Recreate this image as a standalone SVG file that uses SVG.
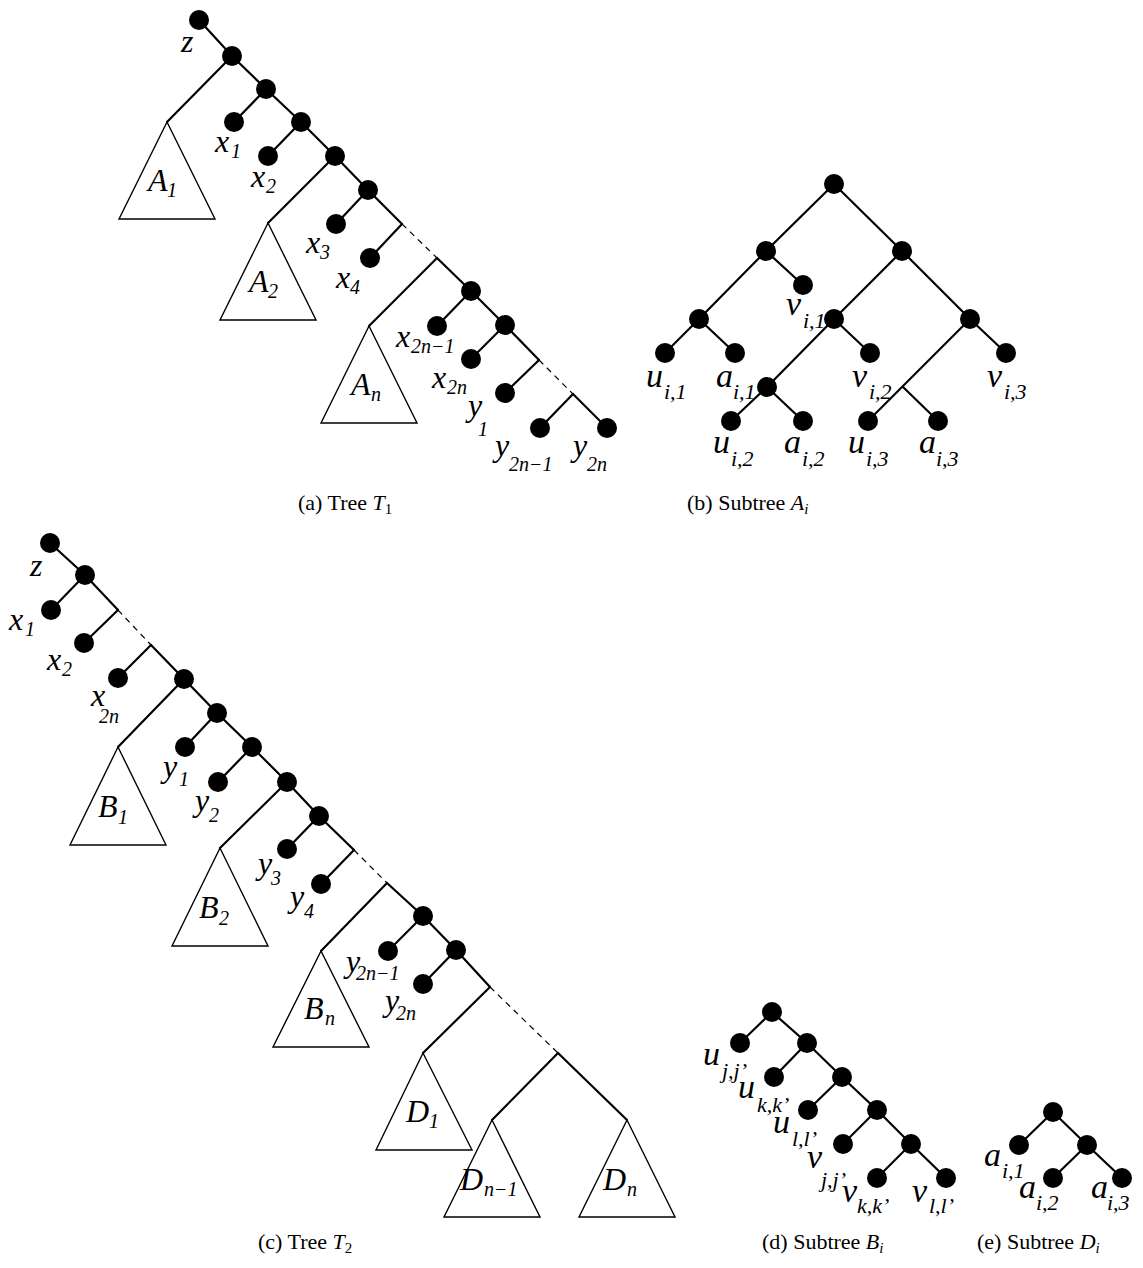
<svg xmlns="http://www.w3.org/2000/svg" width="1143" height="1268" viewBox="0 0 1143 1268">
<style>
.e{stroke:#000;stroke-width:2.2;fill:none;stroke-linecap:round}
.d{stroke:#000;stroke-width:1.2;fill:none;stroke-dasharray:6 5}
.tri{stroke:#000;stroke-width:1.4;fill:#fff}
.n{fill:#000}
.L{font-family:"Liberation Serif",serif;font-style:italic;font-size:32px;fill:#000}
.s{font-family:"Liberation Serif",serif;font-style:italic;font-size:20px;fill:#000}
.L2{font-family:"Liberation Serif",serif;font-style:italic;font-size:34px;fill:#000}
.s2{font-family:"Liberation Serif",serif;font-style:italic;font-size:22px;fill:#000}
.cap{font-family:"Liberation Serif",serif;font-size:22px;fill:#000}
</style>
<rect width="1143" height="1268" fill="#fff"/>
<g id="connectors">
<!-- T1 -->
<polyline class="e" points="199,20 232,56 266,89 301,122 335,156 368,190 402,224"/>
<line class="e" x1="232" y1="56" x2="167" y2="122"/>
<line class="e" x1="266" y1="89" x2="234" y2="122"/>
<line class="e" x1="301" y1="122" x2="268" y2="156"/>
<line class="e" x1="335" y1="156" x2="268" y2="223"/>
<line class="e" x1="368" y1="190" x2="336" y2="224"/>
<line class="e" x1="402" y1="224" x2="370" y2="258"/>
<line class="d" x1="402" y1="224" x2="437" y2="258"/>
<line class="e" x1="437" y1="258" x2="369" y2="326"/>
<polyline class="e" points="437,258 471,291 505,325 539,360"/>
<line class="e" x1="471" y1="291" x2="437" y2="326"/>
<line class="e" x1="505" y1="325" x2="471" y2="359"/>
<line class="e" x1="539" y1="360" x2="505" y2="393"/>
<line class="d" x1="539" y1="360" x2="573" y2="394"/>
<line class="e" x1="573" y1="394" x2="540" y2="428"/>
<line class="e" x1="573" y1="394" x2="607" y2="428"/>
<!-- Ai -->
<polyline class="e" points="699,319 766,251 834,184 902,251 970,319 1006,353"/>
<line class="e" x1="766" y1="251" x2="803" y2="285"/>
<line class="e" x1="699" y1="319" x2="665" y2="353"/>
<line class="e" x1="699" y1="319" x2="735" y2="353"/>
<polyline class="e" points="902,251 834,319 767,387 731,421"/>
<line class="e" x1="834" y1="319" x2="870" y2="353"/>
<line class="e" x1="767" y1="387" x2="803" y2="421"/>
<line class="e" x1="970" y1="319" x2="868" y2="421"/>
<line class="e" x1="903" y1="387" x2="938" y2="421"/>
<!-- T2 -->
<polyline class="e" points="50,543 85,575 118,610"/>
<line class="e" x1="85" y1="575" x2="51" y2="610"/>
<line class="e" x1="118" y1="610" x2="84" y2="643"/>
<line class="d" x1="118" y1="610" x2="151" y2="645"/>
<polyline class="e" points="151,645 184,679 217,713 252,747 287,782 319,816 354,850"/>
<line class="e" x1="151" y1="645" x2="118" y2="678"/>
<line class="e" x1="184" y1="679" x2="118" y2="747"/>
<line class="e" x1="217" y1="713" x2="185" y2="747"/>
<line class="e" x1="252" y1="747" x2="218" y2="782"/>
<line class="e" x1="287" y1="782" x2="220" y2="848"/>
<line class="e" x1="319" y1="816" x2="287" y2="849"/>
<line class="e" x1="354" y1="850" x2="321" y2="884"/>
<line class="d" x1="354" y1="850" x2="387" y2="883"/>
<line class="e" x1="387" y1="883" x2="321" y2="951"/>
<polyline class="e" points="387,883 423,916 456,950 490,987"/>
<line class="e" x1="423" y1="916" x2="388" y2="951"/>
<line class="e" x1="456" y1="950" x2="423" y2="984"/>
<line class="e" x1="490" y1="987" x2="423" y2="1053"/>
<line class="d" x1="490" y1="987" x2="558" y2="1053"/>
<line class="e" x1="558" y1="1053" x2="492" y2="1120"/>
<line class="e" x1="558" y1="1053" x2="627" y2="1120"/>
<!-- Bi -->
<polyline class="e" points="740,1043 772,1012 807,1043 842,1077 877,1110 911,1144 946,1178"/>
<line class="e" x1="807" y1="1043" x2="774" y2="1077"/>
<line class="e" x1="842" y1="1077" x2="808" y2="1110"/>
<line class="e" x1="877" y1="1110" x2="843" y2="1144"/>
<line class="e" x1="911" y1="1144" x2="877" y2="1178"/>
<!-- Di -->
<polyline class="e" points="1019,1145 1053,1112 1087,1145 1122,1178"/>
<line class="e" x1="1087" y1="1145" x2="1053" y2="1178"/>
</g>

<!-- Tree T1 -->
<g id="t1-z"><circle class="n" cx="199" cy="20" r="10"/><text class="L" x="181" y="52">z</text></g>
<g id="t1-n1"><circle class="n" cx="232" cy="56" r="10"/></g>
<g id="t1-n2"><circle class="n" cx="266" cy="89" r="10"/></g>
<g id="t1-x1"><circle class="n" cx="234" cy="122" r="10"/><text class="L" x="215" y="152">x</text><text class="s" x="231" y="158">1</text></g>
<g id="t1-n3"><circle class="n" cx="301" cy="122" r="10"/></g>
<g id="t1-x2"><circle class="n" cx="268" cy="156" r="10"/><text class="L" x="251" y="187">x</text><text class="s" x="266" y="193">2</text></g>
<g id="t1-n4"><circle class="n" cx="335" cy="156" r="10"/></g>
<g id="t1-n5"><circle class="n" cx="368" cy="190" r="10"/></g>
<g id="t1-x3"><circle class="n" cx="336" cy="224" r="10"/><text class="L" x="306" y="253">x</text><text class="s" x="320" y="259">3</text></g>
<g id="t1-x4"><circle class="n" cx="370" cy="258" r="10"/><text class="L" x="336" y="288">x</text><text class="s" x="350" y="294">4</text></g>
<g id="t1-n6"><circle class="n" cx="471" cy="291" r="10"/></g>
<g id="t1-x2n1"><circle class="n" cx="437" cy="326" r="10"/><text class="L" x="396" y="347">x</text><text class="s" x="411" y="353">2n−1</text></g>
<g id="t1-n7"><circle class="n" cx="505" cy="325" r="10"/></g>
<g id="t1-x2n"><circle class="n" cx="471" cy="359" r="10"/><text class="L" x="432" y="388">x</text><text class="s" x="447" y="394">2n</text></g>
<g id="t1-y1"><circle class="n" cx="505" cy="393" r="10"/><text class="L" x="468" y="416">y</text><text class="s" x="478" y="436">1</text></g>
<g id="t1-y2n1"><circle class="n" cx="540" cy="428" r="10"/><text class="L" x="495" y="456">y</text><text class="s" x="509" y="471">2n−1</text></g>
<g id="t1-y2n"><circle class="n" cx="607" cy="428" r="10"/><text class="L" x="573" y="456">y</text><text class="s" x="587" y="471">2n</text></g>
<g id="t1-A1"><polygon class="tri" points="167,122 119,219 215,219"/><text class="L" x="148" y="191">A</text><text class="s" x="167" y="197">1</text></g>
<g id="t1-A2"><polygon class="tri" points="268,223 220,320 316,320"/><text class="L" x="249" y="292">A</text><text class="s" x="268" y="298">2</text></g>
<g id="t1-An"><polygon class="tri" points="369,326 321,423 417,423"/><text class="L" x="351" y="395">A</text><text class="s" x="371" y="401">n</text></g>

<!-- Subtree Ai -->
<g id="ai-root"><circle class="n" cx="834" cy="184" r="10"/></g>
<g id="ai-l"><circle class="n" cx="766" cy="251" r="10"/></g>
<g id="ai-r"><circle class="n" cx="902" cy="251" r="10"/></g>
<g id="ai-v1"><circle class="n" cx="803" cy="285" r="10"/><text class="L2" x="786" y="315">v</text><text class="s2" x="803" y="328">i,1</text></g>
<g id="ai-ll"><circle class="n" cx="699" cy="319" r="10"/></g>
<g id="ai-u1"><circle class="n" cx="665" cy="353" r="10"/><text class="L2" x="646" y="387">u</text><text class="s2" x="664" y="399">i,1</text></g>
<g id="ai-a1"><circle class="n" cx="735" cy="353" r="10"/><text class="L2" x="716" y="387">a</text><text class="s2" x="733" y="399">i,1</text></g>
<g id="ai-rl"><circle class="n" cx="834" cy="319" r="10"/></g>
<g id="ai-v2"><circle class="n" cx="870" cy="353" r="10"/><text class="L2" x="852" y="387">v</text><text class="s2" x="869" y="399">i,2</text></g>
<g id="ai-rr"><circle class="n" cx="970" cy="319" r="10"/></g>
<g id="ai-v3"><circle class="n" cx="1006" cy="353" r="10"/><text class="L2" x="987" y="387">v</text><text class="s2" x="1004" y="399">i,3</text></g>
<g id="ai-rll"><circle class="n" cx="767" cy="387" r="10"/></g>
<g id="ai-u2"><circle class="n" cx="731" cy="421" r="10"/><text class="L2" x="713" y="453">u</text><text class="s2" x="731" y="466">i,2</text></g>
<g id="ai-a2"><circle class="n" cx="803" cy="421" r="10"/><text class="L2" x="784" y="453">a</text><text class="s2" x="802" y="466">i,2</text></g>
<g id="ai-u3"><circle class="n" cx="868" cy="421" r="10"/><text class="L2" x="848" y="453">u</text><text class="s2" x="866" y="466">i,3</text></g>
<g id="ai-a3"><circle class="n" cx="938" cy="421" r="10"/><text class="L2" x="919" y="453">a</text><text class="s2" x="936" y="466">i,3</text></g>

<!-- Tree T2 -->
<g id="t2-z"><circle class="n" cx="50" cy="543" r="10"/><text class="L" x="30" y="576">z</text></g>
<g id="t2-n1"><circle class="n" cx="85" cy="575" r="10"/></g>
<g id="t2-x1"><circle class="n" cx="51" cy="610" r="10"/><text class="L" x="9" y="630">x</text><text class="s" x="25" y="636">1</text></g>
<g id="t2-x2"><circle class="n" cx="84" cy="643" r="10"/><text class="L" x="47" y="670">x</text><text class="s" x="62" y="676">2</text></g>
<g id="t2-x2n"><circle class="n" cx="118" cy="678" r="10"/><text class="L" x="91" y="706">x</text><text class="s" x="99" y="723">2n</text></g>
<g id="t2-n2"><circle class="n" cx="184" cy="679" r="10"/></g>
<g id="t2-n3"><circle class="n" cx="217" cy="713" r="10"/></g>
<g id="t2-y1"><circle class="n" cx="185" cy="747" r="10"/><text class="L" x="163" y="777">y</text><text class="s" x="179" y="786">1</text></g>
<g id="t2-n4"><circle class="n" cx="252" cy="747" r="10"/></g>
<g id="t2-y2"><circle class="n" cx="218" cy="782" r="10"/><text class="L" x="195" y="811">y</text><text class="s" x="209" y="822">2</text></g>
<g id="t2-n5"><circle class="n" cx="287" cy="782" r="10"/></g>
<g id="t2-n6"><circle class="n" cx="319" cy="816" r="10"/></g>
<g id="t2-y3"><circle class="n" cx="287" cy="849" r="10"/><text class="L" x="258" y="874">y</text><text class="s" x="271" y="885">3</text></g>
<g id="t2-y4"><circle class="n" cx="321" cy="884" r="10"/><text class="L" x="290" y="907">y</text><text class="s" x="304" y="918">4</text></g>
<g id="t2-n7"><circle class="n" cx="423" cy="916" r="10"/></g>
<g id="t2-y2n1"><circle class="n" cx="388" cy="951" r="10"/><text class="L" x="346" y="972">y</text><text class="s" x="356" y="980">2n−1</text></g>
<g id="t2-n8"><circle class="n" cx="456" cy="950" r="10"/></g>
<g id="t2-y2n"><circle class="n" cx="423" cy="984" r="10"/><text class="L" x="385" y="1011">y</text><text class="s" x="396" y="1020">2n</text></g>
<g id="t2-B1"><polygon class="tri" points="118,747 70,845 166,845"/><text class="L" x="98" y="817">B</text><text class="s" x="118" y="824">1</text></g>
<g id="t2-B2"><polygon class="tri" points="220,848 172,946 268,946"/><text class="L" x="199" y="918">B</text><text class="s" x="219" y="925">2</text></g>
<g id="t2-Bn"><polygon class="tri" points="321,951 273,1047 369,1047"/><text class="L" x="304" y="1019">B</text><text class="s" x="325" y="1025">n</text></g>
<g id="t2-D1"><polygon class="tri" points="423,1053 376,1150 472,1150"/><text class="L" x="406" y="1122">D</text><text class="s" x="429" y="1128">1</text></g>
<g id="t2-Dn1"><polygon class="tri" points="492,1120 444,1217 540,1217"/><text class="L" x="460" y="1190">D</text><text class="s" x="484" y="1196">n−1</text></g>
<g id="t2-Dn"><polygon class="tri" points="627,1120 579,1217 675,1217"/><text class="L" x="603" y="1190">D</text><text class="s" x="627" y="1196">n</text></g>

<!-- Subtree Bi -->
<g id="bi-root"><circle class="n" cx="772" cy="1012" r="10"/></g>
<g id="bi-uj"><circle class="n" cx="740" cy="1043" r="10"/><text class="L2" x="703" y="1065">u</text><text class="s2" x="722" y="1078">j,j’</text></g>
<g id="bi-n2"><circle class="n" cx="807" cy="1043" r="10"/></g>
<g id="bi-uk"><circle class="n" cx="774" cy="1077" r="10"/><text class="L2" x="738" y="1098">u</text><text class="s2" x="757" y="1112">k,k’</text></g>
<g id="bi-n3"><circle class="n" cx="842" cy="1077" r="10"/></g>
<g id="bi-ul"><circle class="n" cx="808" cy="1110" r="10"/><text class="L2" x="773" y="1133">u</text><text class="s2" x="792" y="1146">l,l’</text></g>
<g id="bi-n4"><circle class="n" cx="877" cy="1110" r="10"/></g>
<g id="bi-vj"><circle class="n" cx="843" cy="1144" r="10"/><text class="L2" x="807" y="1168">v</text><text class="s2" x="821" y="1187">j,j’</text></g>
<g id="bi-n5"><circle class="n" cx="911" cy="1144" r="10"/></g>
<g id="bi-vk"><circle class="n" cx="877" cy="1178" r="10"/><text class="L2" x="842" y="1202">v</text><text class="s2" x="857" y="1213">k,k’</text></g>
<g id="bi-vl"><circle class="n" cx="946" cy="1178" r="10"/><text class="L2" x="912" y="1202">v</text><text class="s2" x="929" y="1213">l,l’</text></g>

<!-- Subtree Di -->
<g id="di-root"><circle class="n" cx="1053" cy="1112" r="10"/></g>
<g id="di-a1"><circle class="n" cx="1019" cy="1145" r="10"/><text class="L2" x="984" y="1166">a</text><text class="s2" x="1002" y="1178">i,1</text></g>
<g id="di-n"><circle class="n" cx="1087" cy="1145" r="10"/></g>
<g id="di-a2"><circle class="n" cx="1053" cy="1178" r="10"/><text class="L2" x="1019" y="1198">a</text><text class="s2" x="1036" y="1210">i,2</text></g>
<g id="di-a3"><circle class="n" cx="1122" cy="1178" r="10"/><text class="L2" x="1091" y="1198">a</text><text class="s2" x="1107" y="1210">i,3</text></g>

<!-- Captions -->
<g id="captions">
<text class="cap" x="298" y="510">(a)  Tree <tspan font-style="italic">T</tspan><tspan font-size="15" dy="4">1</tspan></text>
<text class="cap" x="687" y="510">(b)  Subtree <tspan font-style="italic">A</tspan><tspan font-size="15" font-style="italic" dy="4">i</tspan></text>
<text class="cap" x="258" y="1249">(c)  Tree <tspan font-style="italic">T</tspan><tspan font-size="15" dy="4">2</tspan></text>
<text class="cap" x="762" y="1249">(d)  Subtree <tspan font-style="italic">B</tspan><tspan font-size="15" font-style="italic" dy="4">i</tspan></text>
<text class="cap" x="977" y="1249">(e)  Subtree <tspan font-style="italic">D</tspan><tspan font-size="15" font-style="italic" dy="4">i</tspan></text>
</g>
</svg>
